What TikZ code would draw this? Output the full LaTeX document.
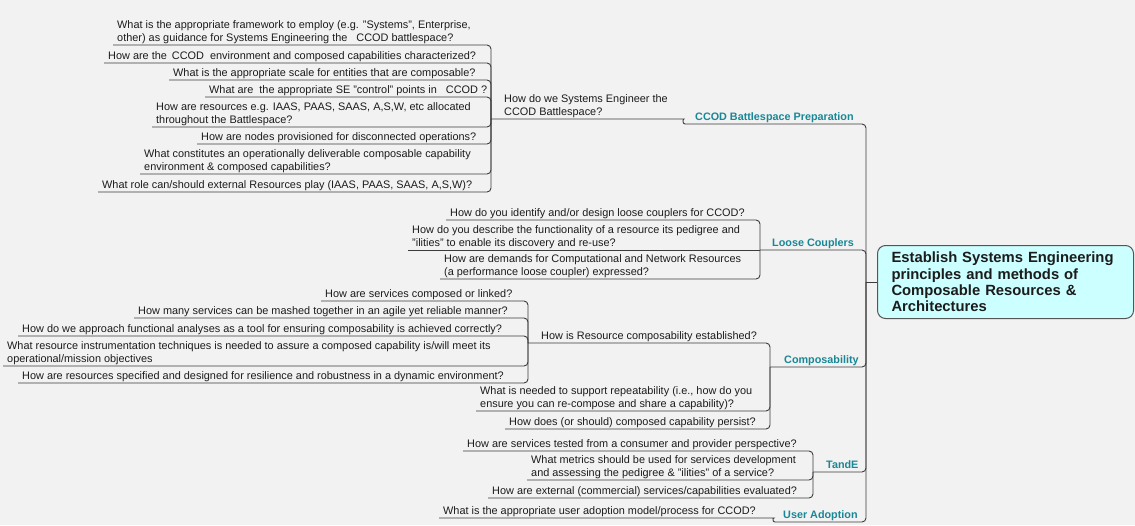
\documentclass[tikz,border=0pt]{standalone}
\usepackage{fontspec}
\setmainfont{Liberation Sans}

\definecolor{paper}{RGB}{242,242,242}
\definecolor{ink}{RGB}{28,28,28}
\definecolor{wire}{RGB}{60,60,60}
\definecolor{branchteal}{RGB}{25,135,150}
\definecolor{rootfill}{RGB}{204,255,255}
\definecolor{rootline}{RGB}{85,85,85}

\newcommand\leaffont{\fontsize{10.9}{12.6}\selectfont}
\newcommand\branchfont{\fontsize{10.8}{12.6}\selectfont\bfseries}
\newcommand\rootfont{\fontsize{14.8}{16.2}\selectfont\bfseries}
% fixed depth below the last line so every underline sits at the same gap
\newcommand\lowstrut{\rule[-2.3pt]{0pt}{2.3pt}}

\tikzset{
  leaf/.style={anchor=south west, align=left, inner xsep=4pt, inner ysep=1.2pt,
    font=\leaffont, text=ink, execute at end node=\lowstrut},
  branch/.style={anchor=south west, inner ysep=1.2pt, font=\branchfont,
    text=branchteal, execute at end node=\lowstrut},
  rootbox/.style={anchor=north west, draw=rootline, fill=rootfill, line width=1pt,
    rounded corners=8pt, text width=228pt, inner xsep=14pt, inner ysep=4pt,
    minimum height=73pt, align=left, font=\rootfont, text=ink},
  conn/.style={draw=wire, line width=0.9pt, rounded corners=4pt},
}

\begin{document}
\begin{tikzpicture}[x=1pt, y=-1pt]
\fill[paper] (0,0) rectangle (1135,525);
\useasboundingbox (0,0) rectangle (1135,525);

% central topic
\node[rootbox] (root) at (877,245) {Establish Systems Engineering\\principles and methods of\\Composable Resources \&\\Architectures};
\coordinate (hub) at ([xshift=-11pt]root.west);

% CCOD Battlespace Preparation
\node[leaf] (a1) at (113,45) {What is the appropriate framework to employ (e.g. "Systems", Enterprise,\\other) as guidance for Systems Engineering the\hspace{9pt}CCOD battlespace?};
\node[leaf] (a2) at (104,63) {How are the\hspace{5pt}CCOD\hspace{3pt} environment and composed capabilities characterized?};
\node[leaf] (a3) at (169,80) {What is the appropriate scale for entities that are composable?};
\node[leaf] (a4) at (205,97) {What are\hspace{3pt} the appropriate SE "control" points in\hspace{9pt}CCOD ?};
\node[leaf] (a5) at (152,127) {How are resources e.g. IAAS, PAAS, SAAS, A,S,W, etc allocated\\throughout the Battlespace?};
\node[leaf] (a6) at (197,144) {How are nodes provisioned for disconnected operations?};
\node[leaf] (a7) at (140,174) {What constitutes an operationally deliverable composable capability\\environment \& composed capabilities?};
\node[leaf] (a8) at (98,192) {What role can/should external Resources play (IAAS, PAAS, SAAS, A,S,W)?};
\node[leaf, inner xsep=13pt] (sys) at (491,119) {How do we Systems Engineer the\\CCOD Battlespace?};
\coordinate (sysend) at (680,119);
\node[branch, inner xsep=10pt] (prep) at (685,124) {CCOD Battlespace Preparation};

% Loose Couplers
\node[leaf] (b1) at (446,220) {How do you identify and/or design loose couplers for CCOD?};
\node[leaf] (b2) at (408,250) {How do you describe the functionality of a resource its pedigree and\\"ilities" to enable its discovery and re-use?};
\node[leaf] (b3) at (440,279) {How are demands for Computational and Network Resources\\(a performance loose coupler) expressed?};
\node[branch, inner xsep=12pt] (loose) at (760,250) {Loose Couplers};

% Composability
\node[leaf] (c1) at (321,301) {How are services composed or linked?};
\node[leaf] (c2) at (134,318) {How many services can be mashed together in an agile yet reliable manner?};
\node[leaf] (c3) at (18,336) {How do we approach functional analyses as a tool for ensuring composability is achieved correctly?};
\node[leaf] (c4) at (3,366) {What resource instrumentation techniques is needed to assure a composed capability is/will meet its\\operational/mission objectives};
\node[leaf] (c5) at (18,383) {How are resources specified and designed for resilience and robustness in a dynamic environment?};
\node[leaf, inner xsep=13pt] (res) at (528,343) {How is Resource composability established?};
\node[leaf] (c6) at (476,411) {What is needed to support repeatability (i.e., how do you\\ensure you can re-compose and share a capability)?};
\node[leaf] (c7) at (505,429) {How does (or should) composed capability persist?};
\node[branch, inner xsep=14pt] (compos) at (770,367) {Composability};

% TandE
\node[leaf] (d1) at (463,451) {How are services tested from a consumer and provider perspective?};
\node[leaf] (d2) at (527,480) {What metrics should be used for services development\\and assessing the pedigree \& "ilities" of a service?};
\node[leaf] (d3) at (488,498) {How are external (commercial) services/capabilities evaluated?};
\node[branch, inner xsep=13pt] (tande) at (813,472) {TandE};

% User Adoption
\node[leaf] (e1) at (439,518) {What is the appropriate user adoption model/process for CCOD?};
\coordinate (e1end) at (770,518);
\node[branch, inner xsep=8pt] (ua) at (775,522) {User Adoption};

% connectors: underline of each topic, bent into its parent's bracket
\foreach \n in {a1,a2,a3,a4,a5,a6,a7,a8}
  \draw[conn] (\n.south west) -- (\n.south west -| sys.south west) -- (sys.south west);
\draw[conn] (sys.south west) -- (sysend) to[out=0, in=180] (prep.south west);

\foreach \n in {b1,b3}
  \draw[conn] (\n.south west) -- (\n.south west -| loose.south west) -- (loose.south west);
\draw[conn] (b2.south west) -- (loose.south west);

\foreach \n in {c1,c2,c3,c4,c5}
  \draw[conn] (\n.south west) -- (\n.south west -| res.south west) -- (res.south west);
\foreach \n in {res,c6,c7}
  \draw[conn] (\n.south west) -- (\n.south west -| compos.south west) -- (compos.south west);

\foreach \n in {d1,d2,d3}
  \draw[conn] (\n.south west) -- (\n.south west -| tande.south west) -- (tande.south west);

\draw[conn] (e1.south west) -- (e1end) to[out=0, in=180] (ua.south west);

% main spine into the central topic
\foreach \n in {prep,loose,compos,tande,ua}
  \draw[conn] (\n.south west) -- (\n.south west -| hub) -- (hub);
\draw[conn] (hub) -- (root.west);
\end{tikzpicture}
\end{document}
